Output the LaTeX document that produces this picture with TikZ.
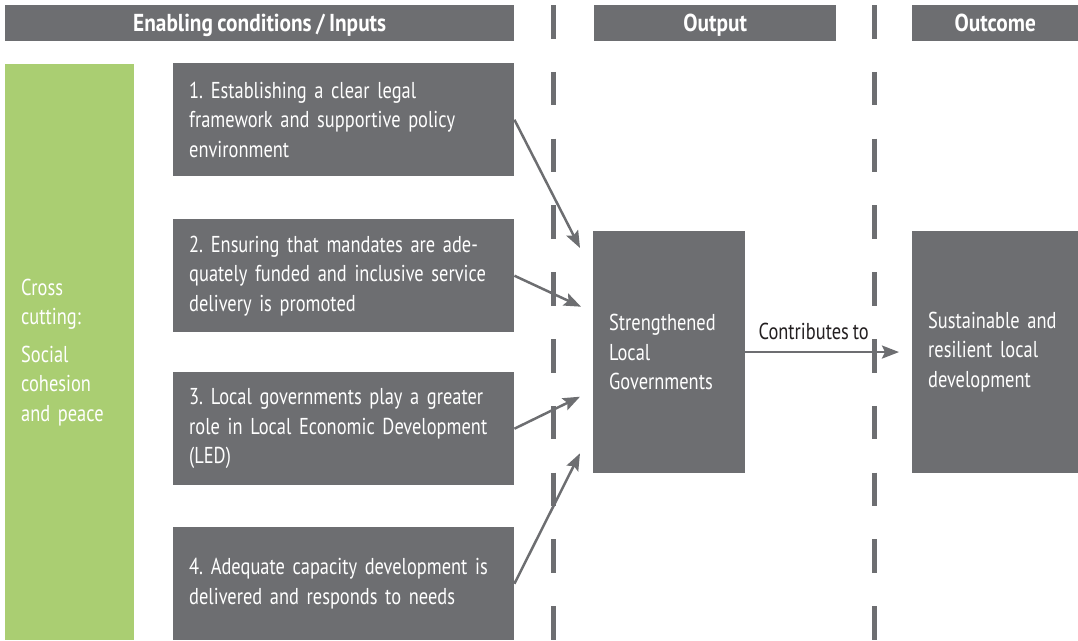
\documentclass[tikz,border=0pt]{standalone}
\usepackage{fontspec}
\setmainfont{PT Sans}[FakeStretch=0.8, WordSpace=0.8,
  BoldFeatures={FakeStretch=0.87}]
\frenchspacing
\usetikzlibrary{arrows.meta}
\definecolor{boxgray}{HTML}{6D6E71}
\definecolor{crossgreen}{HTML}{AACE72}
\definecolor{labelink}{HTML}{231F20}

\begin{document}
\begin{tikzpicture}[x=1pt,y=-1pt,
  bodyfont/.style={font=\fontsize{23}{29.5}\selectfont},
  headbar/.style={fill=boxgray, text=white, anchor=north west, inner sep=0pt,
    minimum height=35.7pt, text depth=0pt, font=\fontsize{24.5}{29.5}\selectfont\bfseries},
  inbox/.style={fill=boxgray, text=white, anchor=north west, align=left,
    minimum width=341pt, minimum height=113pt, text width=309pt,
    inner xsep=16pt, inner ysep=0pt, bodyfont},
  resultbox/.style={fill=boxgray, text=white, anchor=north west, align=left,
    minimum height=241.7pt, inner xsep=16pt, inner ysep=0pt, bodyfont},
  crossbox/.style={fill=crossgreen, text=white, anchor=north west, align=left,
    minimum width=129pt, minimum height=576pt, text width=97pt,
    inner xsep=16pt, inner ysep=0pt, bodyfont},
  separator/.style={draw=boxgray, line width=5pt, dash pattern=on 33.5pt off 33.3pt},
  feed/.style={draw=boxgray, line width=2.5pt,
    -{Stealth[length=17pt, width=13pt, inset=3pt]}},
]
\useasboundingbox (0,0) rectangle (1078,640);

% column separators
\coordinate (sepA top) at (553,5);
\coordinate (sepA bot) at (553,645);
\coordinate (sepB top) at (874.7,5);
\coordinate (sepB bot) at (874.7,645);
\draw[separator] (sepA top) -- (sepA bot);
\draw[separator] (sepB top) -- (sepB bot);

% column headings
\node[headbar, minimum width=509pt] (hIn) at (5,5) {Enabling conditions / Inputs};
\node[headbar, minimum width=242pt] (hOut) at (594,5) {Output};
\node[headbar, minimum width=166pt] (hOutc) at (912,5) {Outcome};

% cross-cutting theme
\node[crossbox] (cross) at (5,64)
  {Cross\\cutting:\\[8pt]Social\\cohesion\\and peace};

% enabling conditions
\node[inbox] (in1) at (173,63)
  {1. Establishing a clear legal\\framework and supportive policy\\environment};
\node[inbox] (in2) at (173,219)
  {2. Ensuring that mandates are ade-\\quately funded and inclusive service\\delivery is promoted};
\node[inbox] (in3) at (173,372)
  {3. Local governments play a greater\\role in Local Economic Development\\(LED)};
\node[inbox] (in4) at (173,527)
  {4. Adequate capacity development is\\delivered and responds to needs};

% output and outcome
\node[resultbox, minimum width=152pt, text width=120pt] (out) at (593,231)
  {Strengthened\\Local\\Governments};
\node[resultbox, minimum width=166pt, text width=134pt] (outc) at (912,231)
  {Sustainable and\\resilient local\\development};

% arrow targets in front of the output box
\coordinate (t1) at (580,248);
\coordinate (t2) at (581,306.7);
\coordinate (t3) at (580,396.7);
\coordinate (t4) at (580,453.3);

\draw[feed] (in1.east) -- (t1);
\draw[feed] (in2.east) -- (t2);
\draw[feed] (in3.east) -- (t3);
\draw[feed] (in4.east) -- (t4);

\draw[feed, shorten >=13pt] (out.east) --
  node[anchor=base, pos=0.41, yshift=12.7pt, text=labelink, bodyfont, inner sep=0pt] (contrib) {Contributes to}
  (outc.west);
\end{tikzpicture}
\end{document}
